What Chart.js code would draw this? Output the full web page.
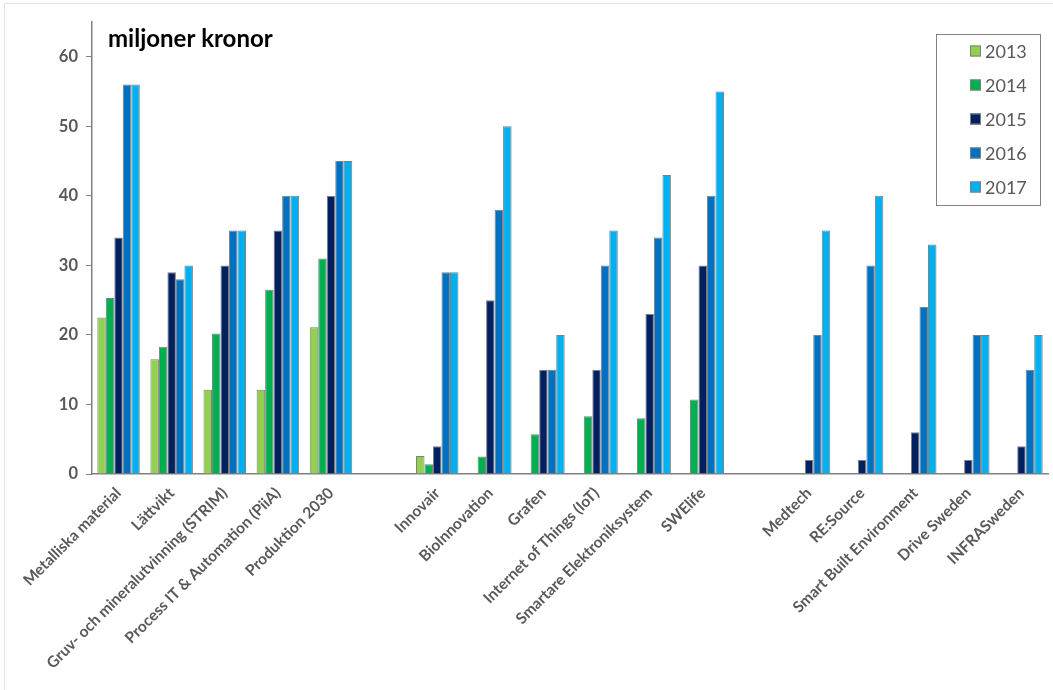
<!DOCTYPE html>
<html>
<head>
<meta charset="utf-8">
<script src="https://cdn.jsdelivr.net/npm/chart.js@4/dist/chart.umd.min.js"></script>
<style>
  html, body { margin: 0; padding: 0; background: #fff; }
  #wrap { width: 1053px; height: 690px; position: relative; }
</style>
</head>
<body>
<div id="wrap"><canvas id="chart" width="1053" height="690"></canvas></div>
<script>
// kategorier (tomma strängar = mellanrum mellan grupperna)
const categories = [
  'Metalliska material', 'Lättvikt', 'Gruv- och mineralutvinning (STRIM)',
  'Process IT & Automation (PiiA)', 'Produktion 2030', '',
  'Innovair', 'BioInnovation', 'Grafen', 'Internet of Things (IoT)',
  'Smartare Elektroniksystem', 'SWElife', '',
  'Medtech', 'RE:Source', 'Smart Built Environment', 'Drive Sweden', 'INFRASweden'
];

const years = ['2013', '2014', '2015', '2016', '2017'];

// miljoner kronor per år
const v2013 = [22.5, 16.5, 12.1, 12.1, 21.1, null, 2.6, null, null, null, null, null, null, null, null, null, null, null];
const v2014 = [25.3, 18.3, 20.2, 26.5, 31, null, 1.4, 2.5, 5.7, 8.3, 8, 10.7, null, null, null, null, null, null];
const v2015 = [34, 29, 30, 35, 40, null, 4, 25, 15, 15, 23, 30, null, 2, 2, 6, 2, 4];
const v2016 = [56, 28, 35, 40, 45, null, 29, 38, 15, 30, 34, 40, null, 20, 30, 24, 20, 15];
const v2017 = [56, 30, 35, 40, 45, null, 29, 50, 20, 35, 43, 55, null, 35, 40, 33, 20, 20];

const yTicks = [0, 10, 20, 30, 40, 50, 60];

const colors = ['#92D050', '#00B050', '#002060', '#0070C0', '#00B0F0'];
const series = [v2013, v2014, v2015, v2016, v2017];

const grey = '#595959';
const font = '"Lato", "Open Sans", sans-serif';

// ram, rubrik och förklaring
const decor = {
  id: 'decor',
  beforeDraw(chart) {
    const c = chart.ctx;
    c.save();
    c.fillStyle = '#fff';
    c.fillRect(0, 0, chart.width, chart.height);
    c.strokeStyle = '#e4e4e4';
    c.lineWidth = 1;
    c.beginPath();
    c.moveTo(4.5, chart.height); c.lineTo(4.5, 3.5); c.lineTo(chart.width, 3.5);
    c.stroke();
    c.restore();
  },
  afterDraw(chart) {
    const c = chart.ctx;
    c.save();
    c.fillStyle = '#000';
    c.font = 'bold 24px ' + font;
    c.textBaseline = 'alphabetic';
    c.fillText('miljoner kronor', 108, 47);

    // förklaring
    c.strokeStyle = '#808080';
    c.lineWidth = 1;
    c.strokeRect(936.5, 34.5, 104, 171);
    c.font = '18px ' + font;
    c.textBaseline = 'middle';
    chart.data.datasets.forEach((ds, i) => {
      const y = 51 + i * 34;
      c.fillStyle = ds.backgroundColor;
      c.fillRect(970, y - 5.5, 11, 11);
      c.strokeStyle = '#7f7f7f';
      c.strokeRect(970.5, y - 5, 10, 10);
      c.fillStyle = grey;
      c.fillText(ds.label, 985, y + 1);
    });
    c.restore();
  }
};

new Chart(document.getElementById('chart'), {
  type: 'bar',
  data: {
    labels: categories,
    datasets: years.map((y, i) => ({
      label: y,
      data: series[i],
      backgroundColor: colors[i],
      borderColor: '#7f7f7f',
      borderWidth: 1,
      barPercentage: 1.0,
      categoryPercentage: 0.8
    }))
  },
  options: {
    responsive: false,
    animation: false,
    layout: { padding: { left: 0, top: 22, right: 5, bottom: 0 } },
    plugins: {
      legend: { display: false },
      tooltip: { enabled: false },
      title: { display: false }
    },
    scales: {
      x: {
        grid: { display: false },
        border: { color: '#808080', width: 1.5 },
        ticks: {
          autoSkip: false,
          maxRotation: 45,
          minRotation: 45,
          color: grey,
          font: { family: font, size: 15.5, weight: 'bold' },
          padding: 2
        },
        afterFit(scale) { scale.height = 216; }
      },
      y: {
        min: 0,
        max: 65,
        grid: { drawOnChartArea: false, drawTicks: true, tickLength: 6, color: '#808080' },
        border: { color: '#808080', width: 1.5 },
        ticks: {
          stepSize: 10,
          color: grey,
          padding: 8,
          font: { family: font, size: 16.5, weight: 'bold' }
        },
        afterBuildTicks(scale) {
          scale.ticks = yTicks.map(v => ({ value: v }));
        },
        afterFit(scale) { scale.width = 92; }
      }
    }
  },
  plugins: [decor]
});
</script>
</body>
</html>
